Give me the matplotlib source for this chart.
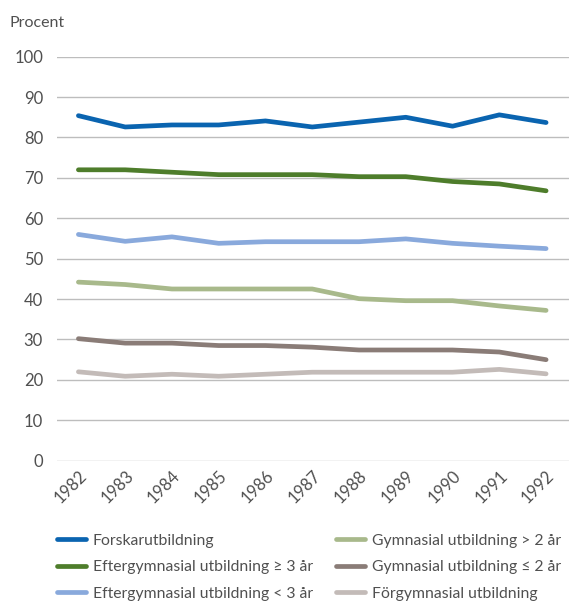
import numpy as np
import matplotlib.pyplot as plt

years = [1982, 1983, 1984, 1985, 1986, 1987, 1988, 1989, 1990, 1991, 1992]

forskar = [85.4, 82.6, 83.1, 83.1, 84.1, 82.6, 83.8, 85.0, 82.8, 85.6, 83.7]
efter_ge3 = [72.0, 72.0, 71.4, 70.8, 70.8, 70.8, 70.3, 70.3, 69.1, 68.5, 66.8]
efter_lt3 = [56.0, 54.3, 55.4, 53.8, 54.2, 54.2, 54.2, 54.9, 53.8, 53.1, 52.5]
gym_gt2 = [44.2, 43.6, 42.5, 42.5, 42.5, 42.5, 40.1, 39.6, 39.6, 38.3, 37.2]
gym_le2 = [30.2, 29.1, 29.1, 28.5, 28.5, 28.1, 27.4, 27.4, 27.4, 26.9, 25.0]
forgym = [22.0, 20.9, 21.4, 20.9, 21.4, 21.9, 21.9, 21.9, 21.9, 22.6, 21.5]

series = [
    ("Forskarutbildning", forskar, "#0a64b0"),
    ("Eftergymnasial utbildning ≥ 3 år", efter_ge3, "#4e7d2b"),
    ("Eftergymnasial utbildning < 3 år", efter_lt3, "#89a9dc"),
    ("Gymnasial utbildning > 2 år", gym_gt2, "#a8b98b"),
    ("Gymnasial utbildning ≤ 2 år", gym_le2, "#8a7c77"),
    ("Förgymnasial utbildning", forgym, "#c3bbb8"),
]

plt.rcParams['font.family'] = ['Lato', 'DejaVu Sans']
txt = '#505050'

fig = plt.figure(figsize=(5.69, 6.03), dpi=100)
ax = fig.add_axes([0.1, 0.236, 0.9, 0.67])

handles = []
for name, vals, col in series:
    ln, = ax.plot(years, vals, color=col, lw=3.4, solid_capstyle='round',
                  solid_joinstyle='round', label=name, zorder=3)
    handles.append(ln)

ax.set_ylim(0, 100)
ax.set_xlim(1981.54, 1992.49)
ax.set_yticks(range(0, 101, 10))
ax.set_xticks(years)
ax.set_xticklabels([str(y) for y in years], rotation=45, ha='right',
                   va='top', rotation_mode='anchor')
ax.grid(axis='y', color='#bdbdbd', lw=1.0, zorder=0)
for s in ax.spines.values():
    s.set_visible(False)
ax.tick_params(axis='both', length=0, colors=txt, labelsize=12)
ax.tick_params(axis='y', pad=10)
ax.tick_params(axis='x', pad=5)

fig.text(0.016, 0.962, "Procent", color=txt, fontsize=11.5, va='center')

kw = dict(loc='upper left', frameon=False, fontsize=11.3, handlelength=1.85,
          handletextpad=0.45, labelspacing=0.8, borderaxespad=0, borderpad=0)
leg1 = fig.legend(handles=handles[:3], bbox_to_anchor=(0.1, 0.115), **kw)
leg2 = fig.legend(handles=handles[3:], bbox_to_anchor=(0.59, 0.115), **kw)
for leg in (leg1, leg2):
    for t in leg.get_texts():
        t.set_color(txt)
    for h in leg.get_lines():
        h.set_linewidth(3.4)
        h.set_solid_capstyle('round')

fig.savefig("out.png", dpi=100)
